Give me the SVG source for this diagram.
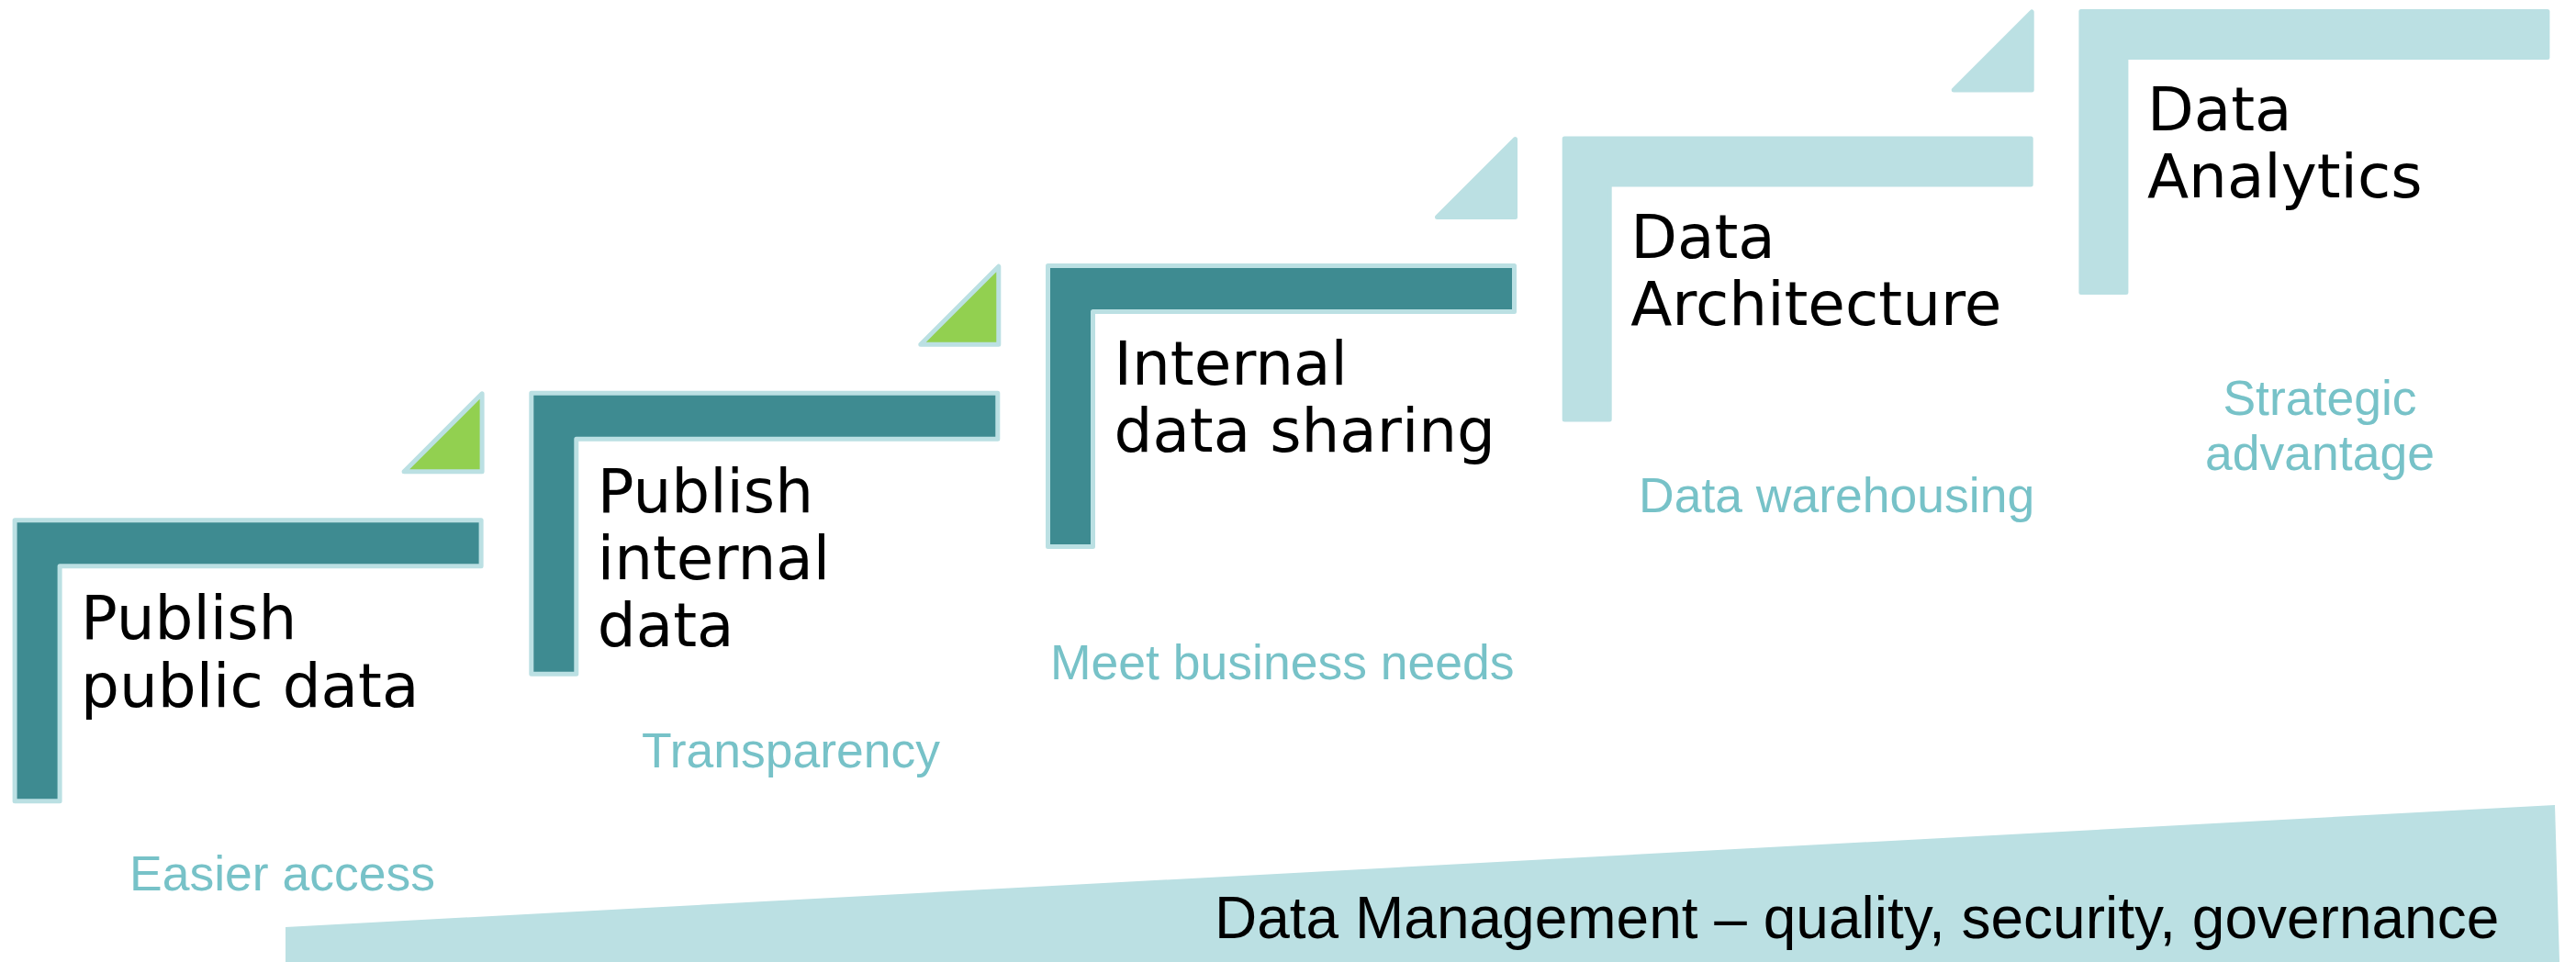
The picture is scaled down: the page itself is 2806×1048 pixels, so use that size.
<svg xmlns="http://www.w3.org/2000/svg" xmlns:xlink="http://www.w3.org/1999/xlink" width="2806" height="1048" viewBox="0 0 2806 1048">
<style>
.dark{fill:#3E8B91;stroke:#BBE0E3;stroke-width:5;stroke-linejoin:round}
.light{fill:#BBE0E3;stroke:#BBE0E3;stroke-width:5;stroke-linejoin:round}
.green{fill:#92D050;stroke:#BBE0E3;stroke-width:5;stroke-linejoin:round}
.title{font-family:"DejaVu Sans",Verdana,sans-serif;font-size:66px;fill:#000000}
.sub{font-family:"Liberation Sans",Arial,sans-serif;font-size:53.5px;fill:#77C2C8}
.base{font-family:"Liberation Sans",Arial,sans-serif;font-size:64px;fill:#000000}
</style>
<defs>
<path id="L" d="M2.5,2.5 H510.5 V52.5 H51.5 V308.5 H2.5 Z"/>
<path id="T" d="M426.5,-50.5 L511.5,-135.5 V-50.5 Z"/>
</defs>
<rect width="2806" height="1048" fill="#FFFFFF"/>

<g id="foundation">
<polygon points="311,1048 311,1010 2783,877 2788,1048" fill="#BBE0E3"/>
<text class="base" x="1323" y="1022">Data Management – quality, security, governance</text>
</g>

<g id="connectors">
<use xlink:href="#T" href="#T" class="green" transform="translate(13.6,564.3)"/>
<use xlink:href="#T" href="#T" class="green" transform="translate(576.3,425.7)"/>
<use xlink:href="#T" href="#T" class="light" transform="translate(1139,287.1)"/>
<use xlink:href="#T" href="#T" class="light" transform="translate(1701.7,148.5)"/>
</g>

<g id="stage1">
<use xlink:href="#L" href="#L" class="dark" transform="translate(13.6,564.3)"/>
<text class="title" transform="translate(13.6,564.3)"><tspan x="74.5" y="132">Publish</tspan><tspan x="74.5" y="205.3">public data</tspan></text>
<text class="sub" x="141" y="970">Easier access</text>
</g>

<g id="stage2">
<use xlink:href="#L" href="#L" class="dark" transform="translate(576.3,425.7)"/>
<text class="title" transform="translate(576.3,425.7)"><tspan x="74.5" y="132">Publish</tspan><tspan x="74.5" y="205.3">internal</tspan><tspan x="74.5" y="278.6">data</tspan></text>
<text class="sub" x="699" y="836">Transparency</text>
</g>

<g id="stage3">
<use xlink:href="#L" href="#L" class="dark" transform="translate(1139,287.1)"/>
<text class="title" transform="translate(1139,287.1)"><tspan x="74.5" y="132">Internal</tspan><tspan x="74.5" y="205.3">data sharing</tspan></text>
<text class="sub" x="1144" y="740">Meet business needs</text>
</g>

<g id="stage4">
<use xlink:href="#L" href="#L" class="light" transform="translate(1701.7,148.5)"/>
<text class="title" transform="translate(1701.7,148.5)"><tspan x="74.5" y="132">Data</tspan><tspan x="74.5" y="205.3">Architecture</tspan></text>
<text class="sub" x="1785" y="558">Data warehousing</text>
</g>

<g id="stage5">
<use xlink:href="#L" href="#L" class="light" transform="translate(2264.4,9.9)"/>
<text class="title" transform="translate(2264.4,9.9)"><tspan x="74.5" y="132">Data</tspan><tspan x="74.5" y="205.3">Analytics</tspan></text>
<text class="sub" text-anchor="middle"><tspan x="2527" y="452">Strategic</tspan><tspan x="2527" y="512">advantage</tspan></text>
</g>
</svg>
